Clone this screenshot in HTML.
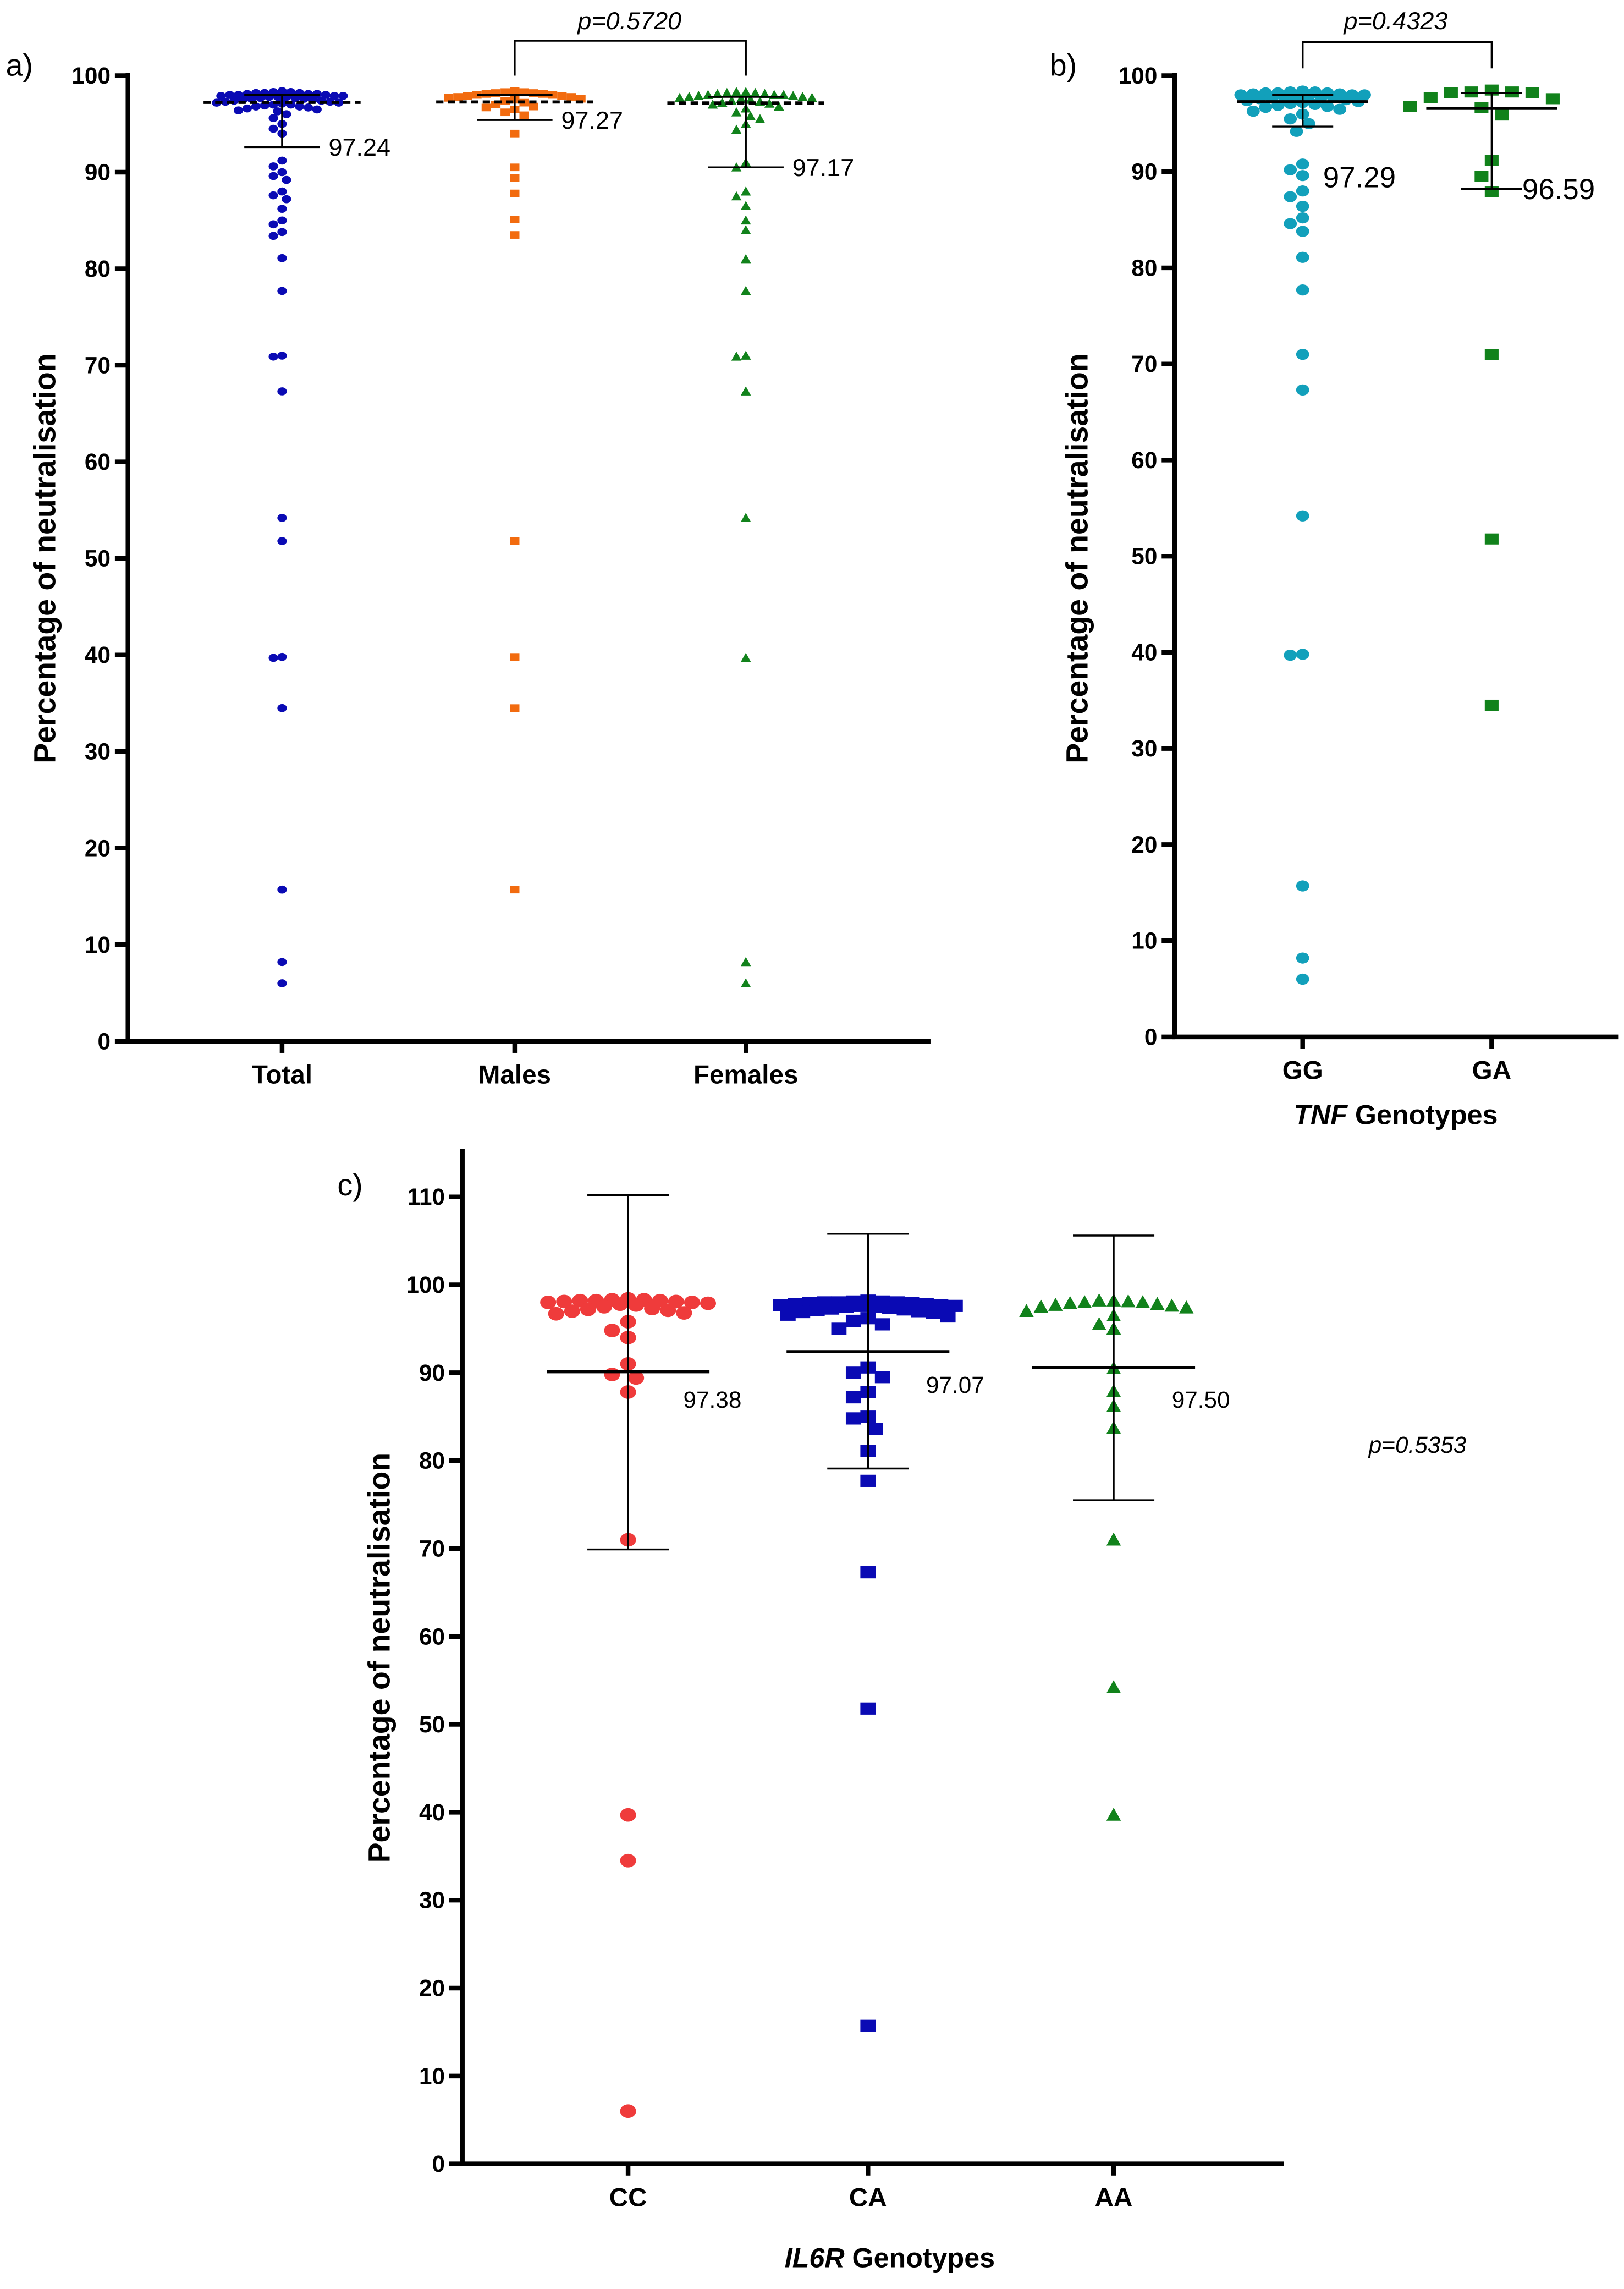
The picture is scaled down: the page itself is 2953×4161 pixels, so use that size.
<!DOCTYPE html>
<html><head><meta charset="utf-8"><style>
html,body{margin:0;padding:0;background:#fff;}
svg{display:block;}
text{font-family:"Liberation Sans",Arial,sans-serif;}
</style></head>
<body>
<svg id="fig" xmlns="http://www.w3.org/2000/svg" width="2953" height="4161" viewBox="0 0 1117 1574">
<rect x="0" y="0" width="1117" height="1574" fill="#fff"/>
</svg>
<script>
// ---------- DATA ----------
const ticksA = [0,10,20,30,40,50,60,70,80,90,100];
const ticksC = [0,10,20,30,40,50,60,70,80,90,100,110];
const catsA = ["Total","Males","Females"];
const catsB = ["GG","GA"];
const catsC = ["CC","CA","AA"];

const totalVals = [98.4,98.3,98.3,98.2,98.2,98.2,98.1,98.1,98.1,98.0,98.0,98.0,97.9,97.9,97.9,97.8,97.8,97.8,97.7,97.7,97.6,97.6,97.5,97.5,97.4,97.4,97.3,97.3,97.2,97.2,97.1,97.0,97.0,96.9,96.8,96.8,96.7,96.6,96.5,96.4,96.3,96.0,95.6,95.0,94.5,94.0,91.2,90.6,90.0,89.6,89.2,88.0,87.6,87.2,86.2,85.0,84.6,83.8,83.4,81.1,77.7,71.0,70.9,67.3,54.2,51.8,39.8,39.7,34.5,15.7,8.2,6.0];
const malesVals = [98.4,98.3,98.3,98.2,98.2,98.1,98.1,98.0,98.0,97.9,97.9,97.8,97.8,97.7,97.6,97.5,97.4,97.2,97.0,96.8,96.7,96.5,96.2,95.9,94.0,90.5,89.4,87.8,85.1,83.5,51.8,39.8,34.5,15.7];
const femalesVals = [98.3,98.3,98.2,98.2,98.1,98.1,98.0,98.0,98.0,97.9,97.9,97.8,97.8,97.7,97.7,97.6,97.5,97.4,97.3,97.2,97.1,97.0,96.8,96.6,96.2,95.8,95.5,95.0,94.4,91.0,90.5,88.0,87.5,86.5,85.0,84.0,81.0,77.7,71.0,70.9,67.3,54.2,39.7,8.2,6.0];
const meanA = [97.24,97.27,97.17];
const capTopA = [98.0,98.0,97.8];
const capBotA = [92.6,95.4,90.5];
const labelA = ["97.24","97.27","97.17"];

const ggVals = [98.4,98.3,98.3,98.2,98.2,98.2,98.1,98.1,98.0,98.0,98.0,97.9,97.9,97.8,97.8,97.7,97.7,97.6,97.5,97.4,97.3,97.2,97.1,97.0,96.9,96.8,96.7,96.5,96.3,96.0,95.5,95.0,94.2,90.8,90.2,89.6,88.0,87.4,86.4,85.2,84.6,83.8,81.1,77.7,71.0,67.3,54.2,39.8,39.7,15.7,8.2,6.0];
const gaVals = [98.5,98.3,98.2,98.3,98.2,97.7,97.6,96.8,96.7,95.9,91.2,89.5,87.9,71.0,51.8,34.5];
const meanB = [97.29,96.59];
const capTopB = [98.0,98.2];
const capBotB = [94.7,88.2];
const labelB = ["97.29","96.59"];

const ccVals = [98.4,98.3,98.3,98.2,98.2,98.2,98.1,98.1,98.0,98.0,97.9,97.8,97.7,97.5,97.3,97.2,97.1,97.0,96.8,96.7,95.8,94.8,94.0,91.0,89.8,89.4,87.8,71.0,39.7,34.5,6.0];
const caVals = [98.2,98.1,98.1,98.0,98.0,98.0,97.9,97.9,97.8,97.8,97.7,97.7,97.6,97.6,97.5,97.5,97.4,97.3,97.2,97.1,97.0,96.9,96.8,96.6,96.4,96.2,95.9,95.5,95.0,90.6,90.0,89.5,87.8,87.2,85.0,84.8,83.6,81.1,77.7,67.3,51.8,15.7];
const aaVals = [98.2,98.2,98.1,98.0,98.0,97.9,97.8,97.7,97.6,97.5,97.4,97.0,96.5,95.5,95.0,90.5,87.9,86.2,83.7,71.0,54.2,39.7];
const meanC = [90.1,92.4,90.6];
const capTopC = [110.2,105.8,105.6];
const capBotC = [69.9,79.1,75.5];
const labelC = ["97.38","97.07","97.50"];

// ---------- DRAWING ----------
const NS = "http://www.w3.org/2000/svg";
const svg = document.getElementById('fig');
function el(tag, attrs, parent, txt){
  const e = document.createElementNS(NS, tag);
  for (const k in attrs) e.setAttribute(k, attrs[k]);
  if (txt !== undefined) e.textContent = txt;
  (parent||svg).appendChild(e);
  return e;
}
function linScale(d0,d1,r0,r1){ return v => r0 + (v-d0)*(r1-r0)/(d1-d0); }

function beeswarm(vals, yS, diam, maxW){
  const sorted = vals.map((v,i)=>({v,i})).sort((a,b)=>b.v-a.v);
  const placed = []; const out = new Array(vals.length);
  const step = diam*0.5;
  const nSteps = Math.floor(maxW/step);
  for (const p of sorted){
    const y = yS(p.v);
    let best = 0, bestD = -1;
    for (let k=0;k<=2*nSteps;k++){
      const off = (k%2===0?1:-1)*Math.ceil(k/2)*step;
      let minD = Infinity;
      for (const q of placed){
        const dx=q.x-off, dy=q.y-y;
        const d = dx*dx+dy*dy;
        if (d<minD) minD=d;
      }
      if (minD >= diam*diam*0.8){ best=off; bestD=minD; break; }
      if (minD > bestD){ bestD=minD; best=off; }
    }
    placed.push({x:best,y});
    out[p.i] = {dx:best,y};
  }
  return out;
}

function marker(shape, cx, cy, s, color, g){
  let m;
  if (shape==='circle') m = el('ellipse',{cx,cy,rx:s/2,ry:s/2*0.85,fill:color},g);
  else if (shape==='square') m = el('rect',{x:cx-s/2,y:cy-s*0.4,width:s,height:s*0.8,fill:color},g);
  else m = el('polygon',{points:`${cx},${cy-s/2} ${cx+s/2},${cy+s/2*0.8} ${cx-s/2},${cy+s/2*0.8}`,fill:color},g);
  
  
  return m;
}

function axes(o){
  const g = el('g',{});
  
  
  el('line',{x1:o.ax,y1:o.top,x2:o.ax,y2:o.y0+1.5,stroke:'#000','stroke-width':3.2},g);
  el('line',{x1:o.ax-1.5,y1:o.y0,x2:o.xEnd,y2:o.y0,stroke:'#000','stroke-width':3.2},g);
  o.ticks.forEach(t=>{
    const y = o.yS(t);
    el('line',{x1:o.ax-9,y1:y,x2:o.ax,y2:y,stroke:'#000','stroke-width':3.2},g);
    const tl = el('text',{x:o.ax-12,y:y+5.5,'text-anchor':'end','font-size':16,'font-weight':'bold',fill:'#000'},g,String(t));
    
    
  });
  o.cats.forEach((c,i)=>{
    const x = o.xs[i];
    el('line',{x1:x,y1:o.y0,x2:x,y2:o.y0+8,stroke:'#000','stroke-width':3.2},g);
    const cl = el('text',{x:x,y:o.y0+29,'text-anchor':'middle','font-size':18,'font-weight':'bold',fill:'#000'},g,c);
    
    
  });
  const yt = el('text',{x:0,y:0,transform:`translate(${o.titleX},${o.titleY}) rotate(-90)`,'text-anchor':'middle','font-size':21,'font-weight':'bold',textLength:o.titleLen,lengthAdjust:'spacingAndGlyphs',fill:'#000'},g,'Percentage of neutralisation');
  
  
  const pl = el('text',{x:o.labX,y:o.labY,'font-size':21,fill:'#000'},g,o.label);
  
  
}

function group(o){
  const g = el('g',{});
  
  
  const pos = beeswarm(o.vals, o.yS, o.diam, o.maxW);
  pos.forEach(p=>marker(o.shape, o.x+p.dx, p.y, o.size, o.color, g));
  return g;
}

function errbar(o){
  const g = el('g',{});
  
  
  const yt=o.yS(o.top), yb=o.yS(o.bot), ym=o.yS(o.mean);
  el('line',{x1:o.x,y1:yt,x2:o.x,y2:yb,stroke:'#000','stroke-width':o.w},g);
  el('line',{x1:o.x-o.cap,y1:yt,x2:o.x+o.cap,y2:yt,stroke:'#000','stroke-width':o.w},g);
  el('line',{x1:o.x-o.cap,y1:yb,x2:o.x+o.cap,y2:yb,stroke:'#000','stroke-width':o.w},g);
  const ml = el('line',{x1:o.x-o.mw,y1:ym,x2:o.x+o.mw,y2:ym,stroke:'#000','stroke-width':o.mwid||2,'stroke-dasharray':o.dash||'none'},g);
  
  
  const t = el('text',{x:o.lx,y:o.ly,'font-size':o.fs,fill:'#000'},g,o.label);
  
  
}

function bracket(x1,x2,yTop,yLeg,px,py,txt,name){
  const g = el('g',{});
  
  
  el('polyline',{points:`${x1},${yLeg} ${x1},${yTop} ${x2},${yTop} ${x2},${yLeg}`,fill:'none',stroke:'#000','stroke-width':1.3},g);
  el('text',{x:px,y:py,'text-anchor':'middle','font-size':17,'font-style':'italic',fill:'#000'},g,txt);
}

// Panel a
const yA = linScale(0,100,716,52);
const xA = [194,354,513];
axes({name:'panel-a',ax:88,top:50,y0:716,xEnd:640,yS:yA,ticks:ticksA,cats:catsA,xs:xA,titleX:38,titleY:384,titleLen:282,labX:4,labY:52,label:'a)'});
group({name:'total-series',vals:totalVals,yS:yA,x:xA[0],diam:6,size:6.5,shape:'circle',color:'#0a0ab4',maxW:46});
group({name:'males-series',vals:malesVals,yS:yA,x:xA[1],diam:6.5,size:6.5,shape:'square',color:'#f26b0f',maxW:46});
group({name:'females-series',vals:femalesVals,yS:yA,x:xA[2],diam:6.5,size:7,shape:'triangle',color:'#11821b',maxW:48});
[0,1,2].forEach(i=>errbar({name:'errorbar-'+catsA[i].toLowerCase(),x:xA[i],yS:yA,mean:meanA[i],top:capTopA[i],bot:capBotA[i],cap:26,mw:54,dash:'5 3',mwid:2.2,w:1.3,lx:xA[i]+32,ly:yA(capBotA[i])+6,fs:17,label:labelA[i]}));
bracket(354,513,28,52,433,20,'p=0.5720','bracket-a');

// Panel b
const yB = linScale(0,100,713,52);
const xB = [896,1026];
axes({name:'panel-b',ax:808,top:50,y0:713,xEnd:1113,yS:yB,ticks:ticksA,cats:catsB,xs:xB,titleX:748,titleY:384,titleLen:282,labX:722,labY:52,label:'b)'});
const tt = el('text',{x:960,y:773,'text-anchor':'middle','font-size':19,'font-weight':'bold',fill:'#000'},svg);


el('tspan',{'font-style':'italic'},tt,'TNF'); el('tspan',{},tt,' Genotypes');
group({name:'gg-series',vals:ggVals,yS:yB,x:xB[0],diam:8.5,size:9,shape:'circle',color:'#12a0bb',maxW:44});
group({name:'ga-series',vals:gaVals,yS:yB,x:xB[1],diam:14,size:9.5,shape:'square',color:'#11821b',maxW:60});
[0,1].forEach(i=>errbar({name:'errorbar-'+catsB[i].toLowerCase(),x:xB[i],yS:yB,mean:meanB[i],top:capTopB[i],bot:capBotB[i],cap:21,mw:45,mwid:2,w:1.3,lx:i===0?910:1047,ly:i===0?yB(89.6)+8:yB(88.2)+7,fs:20,label:labelB[i]}));
bracket(896,1026,29,47,960,20,'p=0.4323','bracket-b');

// Panel c
const yC = linScale(0,110,1488,823);
const xC = [432,597,766];
axes({name:'panel-c',ax:318,top:790,y0:1488,xEnd:883,yS:yC,ticks:ticksC,cats:catsC,xs:xC,titleX:268,titleY:1140,titleLen:282,labX:232,labY:822,label:'c)'});
const tc = el('text',{x:612,y:1559,'text-anchor':'middle','font-size':19,'font-weight':'bold',fill:'#000'},svg);


el('tspan',{'font-style':'italic'},tc,'IL6R'); el('tspan',{},tc,' Genotypes');
group({name:'cc-series',vals:ccVals,yS:yC,x:xC[0],diam:11,size:11,shape:'circle',color:'#ef3b3b',maxW:60});
group({name:'ca-series',vals:caVals,yS:yC,x:xC[1],diam:10,size:10.5,shape:'square',color:'#0a0ab4',maxW:62});
group({name:'aa-series',vals:aaVals,yS:yC,x:xC[2],diam:10,size:10,shape:'triangle',color:'#11821b',maxW:60});
[0,1,2].forEach(i=>errbar({name:'errorbar-'+catsC[i].toLowerCase(),x:xC[i],yS:yC,mean:meanC[i],top:capTopC[i],bot:capBotC[i],cap:28,mw:56,mwid:2,w:1.3,lx:xC[i]+[38,40,40][i],ly:yC([87,88.7,87][i])+6,fs:16,label:labelC[i]}));
const pc = el('text',{x:975,y:999,'text-anchor':'middle','font-size':16,'font-style':'italic',fill:'#000'},svg,'p=0.5353');


</script>
</body></html>
